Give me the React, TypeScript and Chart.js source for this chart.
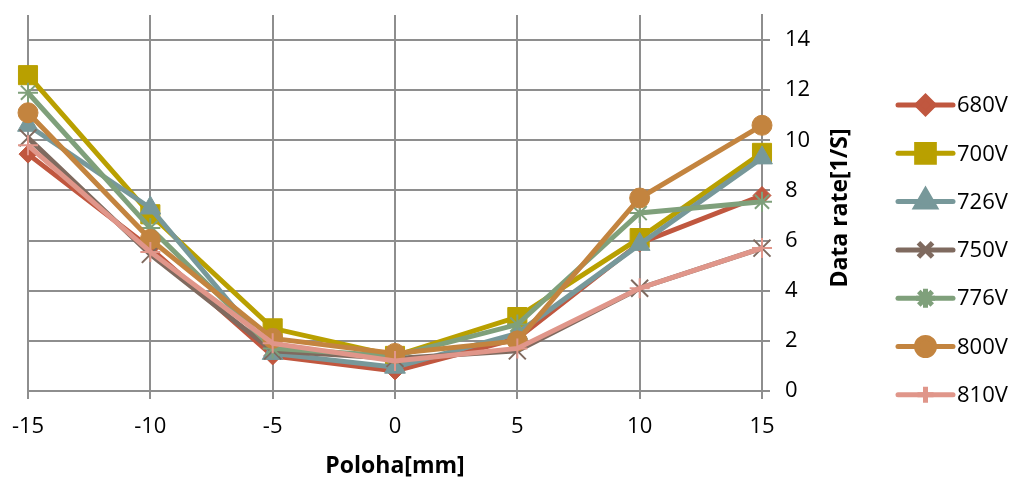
import React, { useEffect, useRef } from "react";
import { Chart, registerables } from "chart.js";
import { drawPoint } from "chart.js/helpers";

Chart.register(...registerables);

const positions = [-15, -10, -5, 0, 5, 10, 15];
const seriesNames = ["680V", "700V", "726V", "750V", "776V", "800V", "810V"];
const s680 = [9.45, 5.7, 1.4, 0.8, 2.1, 5.9, 7.8];
const s700 = [12.6, 7.05, 2.5, 1.4, 2.95, 6.1, 9.5];
const s726 = [10.6, 7.3, 1.5, 0.95, 2.3, 5.85, 9.3];
const s750 = [10.1, 5.45, 1.6, 1.3, 1.6, 4.1, 5.7];
const s776 = [11.9, 6.5, 1.7, 1.4, 2.65, 7.1, 7.55];
const s800 = [11.1, 6.05, 2.1, 1.5, 2.0, 7.7, 10.6];
const s810 = [9.8, 5.55, 1.9, 1.2, 1.7, 4.1, 5.7];
const seriesValues = [s680, s700, s726, s750, s776, s800, s810];
const yTickValues = [0, 2, 4, 6, 8, 10, 12, 14];
const xTitle = "Poloha[mm]";
const yTitle = "Data rate[1/S]";

const colors = ["#C0573F", "#B9A000", "#77989A", "#7F6A5F", "#7FA07B", "#C3843F", "#E0968A"];
const styles = ["rectRot", "rect", "triangle", "crossRot", "star", "circle", "cross"];
const radii = [9, 13.5, 12, 12, 10, 10, 10];
const borderW = [1, 1, 1, 2, 2, 1, 2];
const legendRadii = [8.5, 12.5, 11, 10, 9.5, 9, 8];

const FONT = "'Open Sans', 'Liberation Sans', sans-serif";

const extrasPlugin = {
  id: "extras",
  afterDraw(chart: any) {
    const ctx = chart.ctx;
    const area = chart.chartArea;
    ctx.save();
    ctx.fillStyle = "#000";
    ctx.font = `bold 23px ${FONT}`;
    ctx.textAlign = "center";
    ctx.textBaseline = "middle";
    ctx.fillText(xTitle, (area.left + area.right) / 2, 466);
    ctx.save();
    ctx.translate(840, 208);
    ctx.rotate(-Math.PI / 2);
    ctx.fillText(yTitle, 0, 0);
    ctx.restore();
    chart.data.datasets.forEach((ds: any, i: number) => {
      const y = 105 + i * 48.3;
      ctx.strokeStyle = ds.borderColor;
      ctx.lineWidth = 5;
      ctx.lineCap = "round";
      ctx.beginPath();
      ctx.moveTo(898, y);
      ctx.lineTo(953, y);
      ctx.stroke();
      ctx.fillStyle = ds.borderColor;
      ctx.strokeStyle = ds.borderColor;
      ctx.lineCap = "butt";
      drawPoint(ctx, { pointStyle: styles[i], radius: legendRadii[i], rotation: 0, borderWidth: borderW[i] } as any, 925.5, y);
      ctx.fillStyle = "#000";
      ctx.font = `22px ${FONT}`;
      ctx.textAlign = "left";
      ctx.textBaseline = "middle";
      ctx.fillText(ds.label, 957, y + 1);
    });
    ctx.restore();
  },
};

export default function App() {
  const ref = useRef<HTMLCanvasElement>(null);
  useEffect(() => {
    document.body.style.margin = "0";
    const datasets = seriesNames.map((name, i) => ({
      label: name,
      data: positions.map((x, j) => ({ x, y: seriesValues[i][j] })),
      borderColor: colors[i],
      backgroundColor: colors[i],
      pointBackgroundColor: colors[i],
      pointBorderColor: colors[i],
      borderWidth: 5,
      pointStyle: styles[i],
      pointRadius: radii[i],
      pointBorderWidth: borderW[i],
      tension: 0,
      clip: false,
      order: seriesNames.length - i,
    }));
    const chart = new Chart(ref.current as HTMLCanvasElement, {
      type: "line",
      data: { datasets },
      options: {
        animation: false,
        responsive: false,
        devicePixelRatio: 1,
        layout: { padding: { left: 28, top: 15, right: 192, bottom: 0 } },
        plugins: { legend: { display: false }, tooltip: { enabled: false } },
        scales: {
          x: {
            type: "linear",
            min: -15,
            max: 15,
            ticks: { stepSize: 5, color: "#000", font: { family: FONT, size: 22 }, padding: 15, maxRotation: 0 },
            grid: { color: "#8E8E8E", lineWidth: 2, tickLength: 8, drawTicks: true },
            border: { display: false },
            afterFit: (s: any) => { s.height = 89; s.paddingLeft = 0; s.paddingRight = 0; },
          },
          y: {
            type: "linear",
            position: "right",
            min: 0,
            max: 15,
            afterBuildTicks: (s: any) => { s.ticks = yTickValues.map((v) => ({ value: v })); },
            ticks: { color: "#000", font: { family: FONT, size: 22 }, padding: 15 },
            grid: { color: "#8E8E8E", lineWidth: 2, tickLength: 8 },
            border: { color: "#8E8E8E", width: 2 },
            afterFit: (s: any) => { s.width = 60; s.paddingTop = 0; s.paddingBottom = 0; },
          },
        },
      },
      plugins: [extrasPlugin],
    } as any);
    return () => chart.destroy();
  }, []);
  return (
    <div style={{ width: 1014, height: 480, background: "#fff" }}>
      <canvas ref={ref} width={1014} height={480} />
    </div>
  );
}
